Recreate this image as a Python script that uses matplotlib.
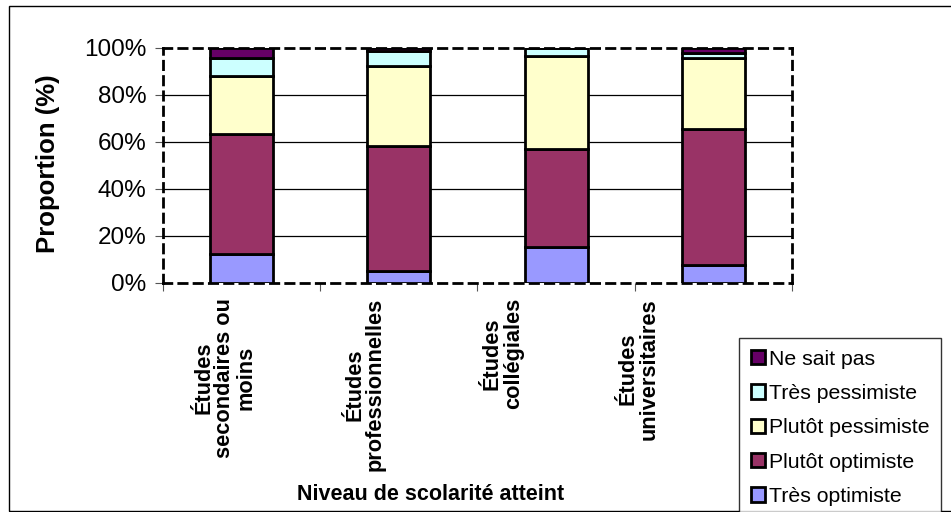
import matplotlib
matplotlib.use("Agg")
import matplotlib.pyplot as plt
import matplotlib.patches as patches
import matplotlib.transforms as mtransforms
import numpy as np

plt.rcParams['font.family'] = ['Liberation Sans', 'DejaVu Sans']

# données (%)
categories = ["Études\nsecondaires ou\nmoins", "Études\nprofessionnelles",
              "Études\ncollégiales", "Études\nuniversitaires"]
series_names = ["Très optimiste", "Plutôt optimiste", "Plutôt pessimiste",
                "Très pessimiste", "Ne sait pas"]
tres_optimiste = [12, 5, 15, 7.5]
plutot_optimiste = [51, 53, 42, 58]
plutot_pessimiste = [25, 34, 39.5, 30]
tres_pessimiste = [7.5, 6.5, 3.5, 2]
ne_sait_pas = [4.5, 1.5, 0, 2.5]
yticks = [0, 20, 40, 60, 80, 100]

colors = ['#9999FF', '#993366', '#FFFFCC', '#CCFFFF', '#660066']
series = [tres_optimiste, plutot_optimiste, plutot_pessimiste,
          tres_pessimiste, ne_sait_pas]

fig = plt.figure(figsize=(9.51, 5.12), dpi=100, facecolor='white')
ax = fig.add_axes([0.1714, 0.4482, 0.6614, 0.459])

x = np.arange(len(categories))
bottom = np.zeros(len(categories))
handles = []
for name, vals, col in zip(series_names, series, colors):
    vals = np.array(vals, dtype=float)
    b = ax.bar(x, vals, 0.4, bottom=bottom, color=col, edgecolor='black',
               linewidth=2, label=name, zorder=3)
    handles.append(b)
    bottom += vals

ax.set_xlim(-0.5, len(categories) - 0.5)
ax.set_ylim(0, 100)
ax.set_yticks(yticks)
ax.set_yticklabels([f"{v}%" for v in yticks], fontsize=17.5)
ax.tick_params(axis='y', length=6, width=0.8, color='#555555', pad=6)
ax.set_xticks(np.arange(len(categories) + 1) - 0.5)
ax.set_xticklabels([])
ax.tick_params(axis='x', length=6, width=0.8, color='#555555')

for v in yticks[1:-1]:
    ax.axhline(v, color='black', linewidth=0.9, zorder=1)

for s in ax.spines.values():
    s.set_linestyle((0, (3, 2.5)))
    s.set_linewidth(2)
    s.set_color('black')

# étiquettes des catégories (décalées comme dans l'original)
label_pos = [-0.106, 0.785, 1.662, 2.527]
trans = mtransforms.blended_transform_factory(ax.transData, ax.transAxes)
for xp, lab in zip(label_pos, categories):
    ax.text(xp, -0.066, lab, transform=trans, rotation=90, ha='center',
            va='top', multialignment='center', fontsize=15.7,
            fontweight='bold', linespacing=1.0)

fig.text(48 / 951, 1 - 164 / 512, "Proportion (%)", rotation=90,
         ha='center', va='center', fontsize=18.5, fontweight='bold')
fig.text(431 / 951, 1 - 494 / 512, "Niveau de scolarité atteint",
         ha='center', va='center', fontsize=15.5, fontweight='bold')

leg = fig.legend(handles[::-1], series_names[::-1], loc='upper left',
                 bbox_to_anchor=(739 / 951, 1 - 338 / 512), fontsize=15.3,
                 frameon=True, fancybox=False, handlelength=0.65,
                 handleheight=0.65, handletextpad=0.2, labelspacing=0.72,
                 borderpad=0.55, borderaxespad=0)
leg.get_frame().set_edgecolor('black')
leg.get_frame().set_linewidth(1)

# cadre extérieur (coupé à droite comme l'original)
fig.patches.append(patches.Rectangle((9 / 951, 1.5 / 512), 960 / 951, 505 / 512,
                                     transform=fig.transFigure, fill=False,
                                     edgecolor='black', linewidth=1))

fig.savefig('out.png', dpi=100, facecolor='white')
